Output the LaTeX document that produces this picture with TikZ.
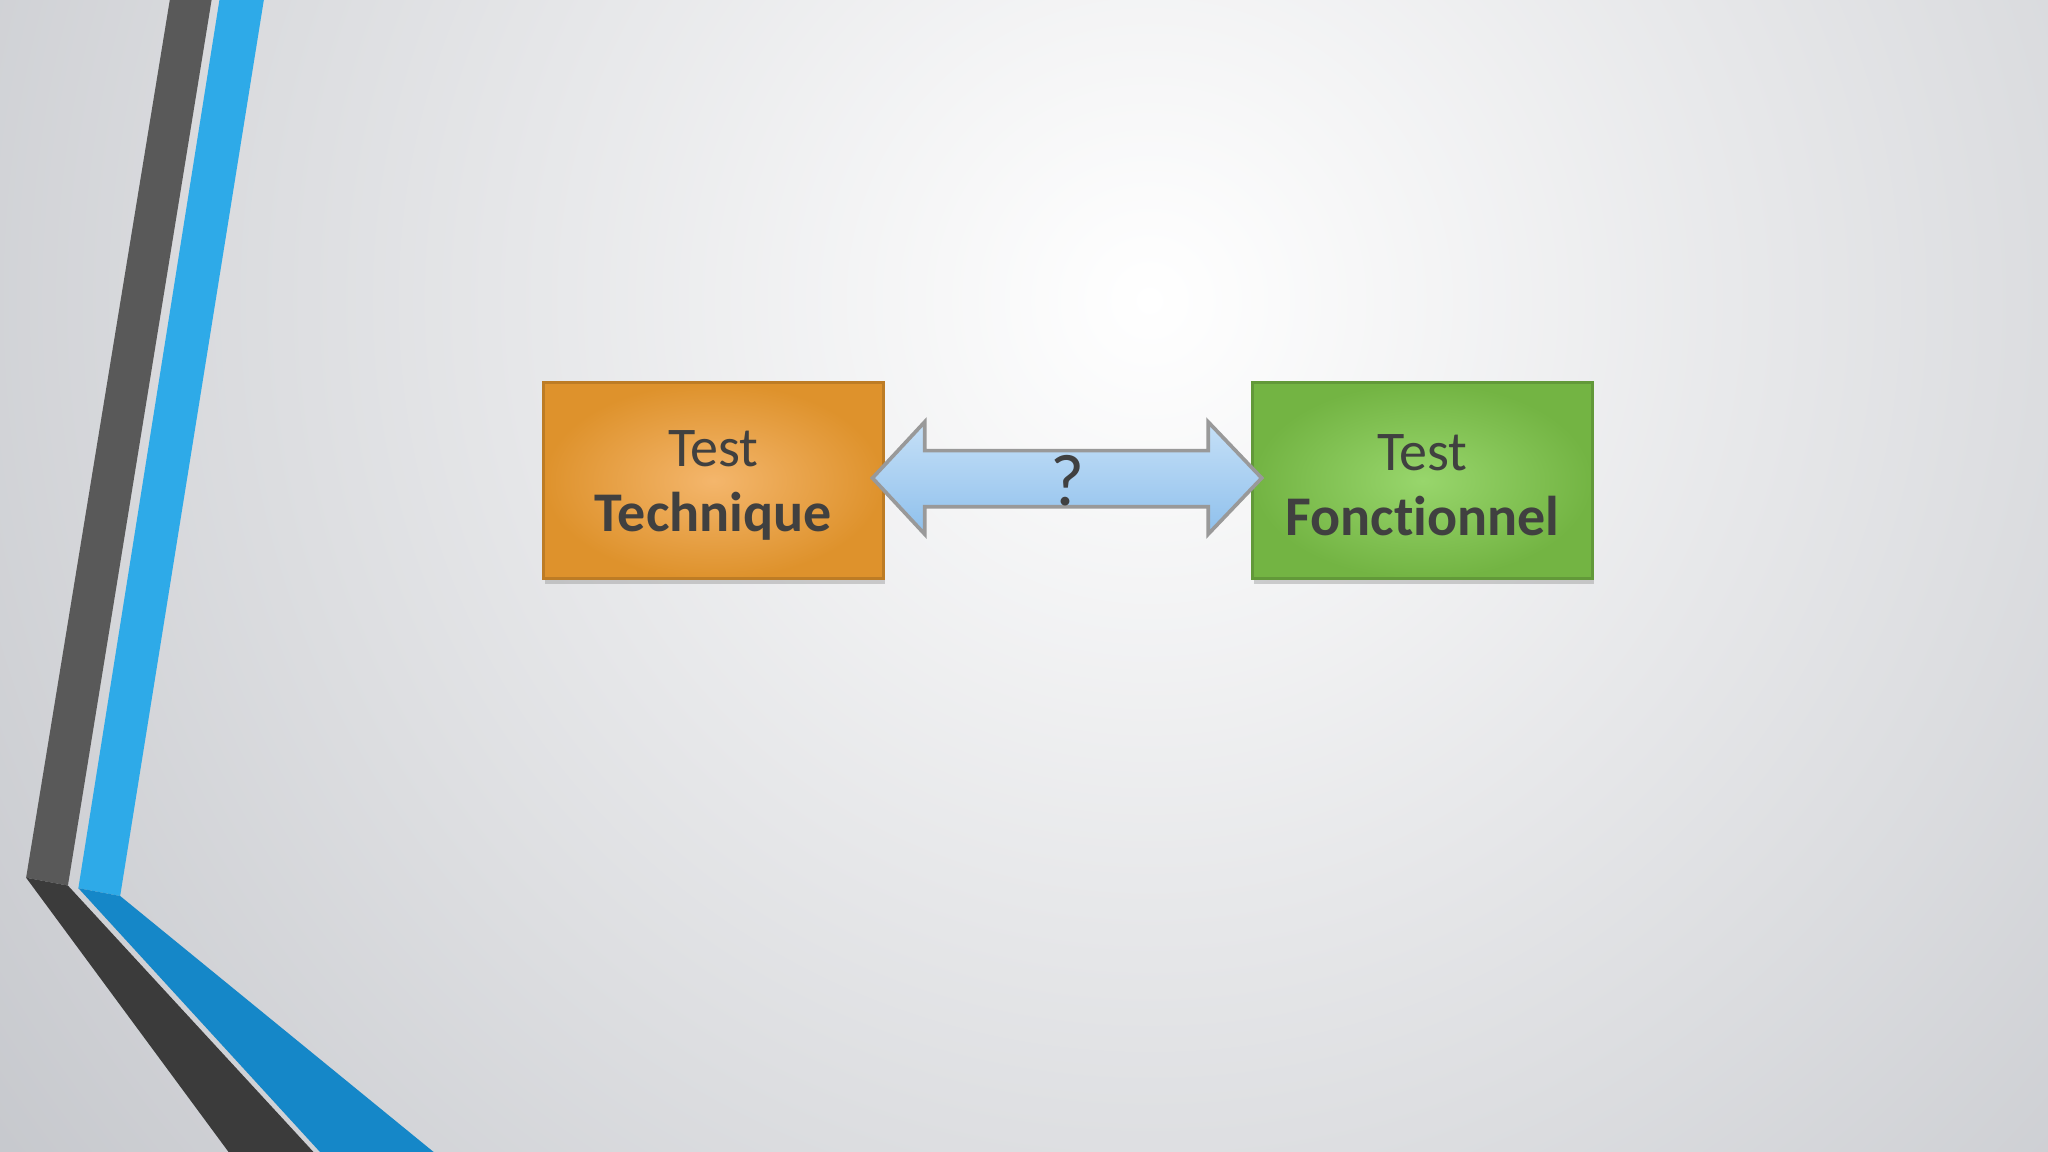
\documentclass[tikz,border=0pt]{standalone}
\usepackage{fontspec}
\setmainfont[Ligatures=NoCommon]{Carlito}
\usetikzlibrary{shapes.arrows,shadows}
\definecolor{txt}{HTML}{404040}
\definecolor{orE}{HTML}{DE922C}
\definecolor{orC}{HTML}{F4B66C}
\definecolor{grE}{HTML}{73B443}
\definecolor{grC}{HTML}{98D66C}
\definecolor{blU}{HTML}{2EAAE8}
\definecolor{blD}{HTML}{1587C8}
\definecolor{bgO}{HTML}{C4C6CB}
\definecolor{arT}{HTML}{C6E0F7}
\definecolor{arB}{HTML}{8EC0EC}
\tikzset{
  px/.style={x=0.01cm,y=-0.01cm},
  boxst/.style={draw=#1, line width=0.6pt, minimum width=2.6cm, minimum height=1.5cm, drop shadow={opacity=0.35,shadow xshift=0.3pt,shadow yshift=-1.2pt}},
  lbl/.style={text=txt, align=center, font=\fontsize{12.2}{14.2}\selectfont}
}
\begin{document}
\begin{tikzpicture}[px]
\useasboundingbox (0,0) rectangle (1568,882);
\begin{scope}
\clip (0,0) rectangle (1568,882);
\fill[bgO] (0,0) rectangle (1568,882);
\shade[inner color=white, outer color=bgO] (880,230) circle (1150);
\end{scope}
% stripes
\fill[black!65] (130,0) -- (162,0) -- (52,678) -- (20,672) -- cycle;
\fill[black!77] (20,672) -- (52,678) -- (240,882) -- (175,882) -- cycle;
\fill[blU] (168,0) -- (202,0) -- (92,686) -- (60,680) -- cycle;
\fill[blD] (60,680) -- (92,686) -- (332,882) -- (245,882) -- cycle;
% boxes
\node[boxst=orE!85!black, inner color=orC, outer color=orE, anchor=north west] (ot) at (415,292) {};
\node[boxst=grE!85!black, inner color=grC, outer color=grE, anchor=north west] (gt) at (958,292) {};
\node[lbl] at ([yshift=-1pt]ot.center) {Test\\\textbf{Technique}};
\node[lbl] at ([yshift=-1pt]gt.center) {Test\\\textbf{Fonctionnel}};
% double arrow
\coordinate (al) at (668,366);
\coordinate (ar) at (966,366);
\filldraw[draw=black!40, line width=0.8pt, top color=arT, bottom color=arB]
 (al) -- (708,323) -- (708,345) -- (925,345) -- (925,323) -- (ar) -- (925,409) -- (925,388) -- (708,388) -- (708,409) -- cycle;
\node[lbl, font=\fontsize{16}{18}\selectfont] (q) at (817,368) {?};
\end{tikzpicture}
\end{document}
